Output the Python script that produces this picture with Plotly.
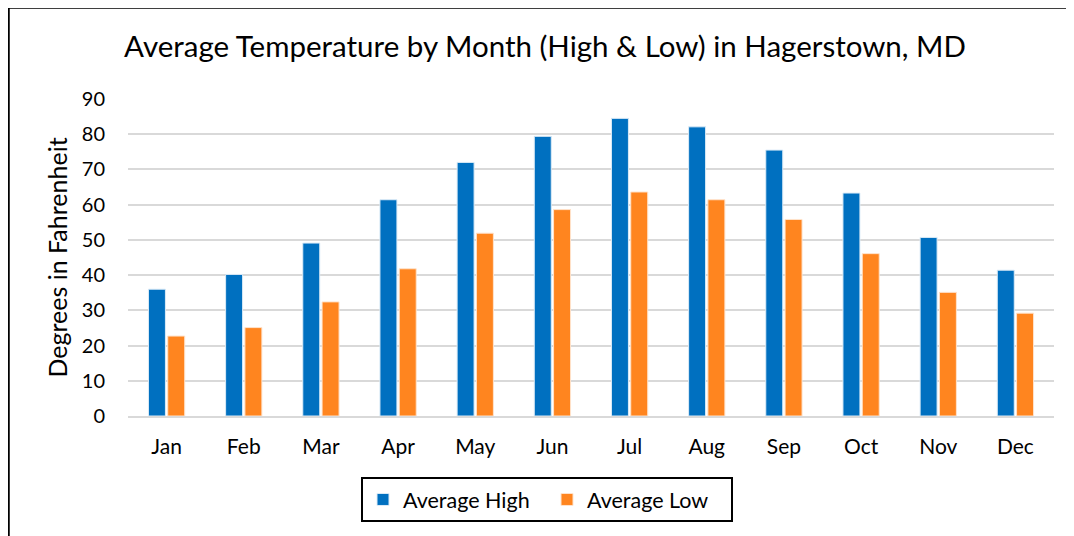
import plotly.graph_objects as go

months = ["Jan", "Feb", "Mar", "Apr", "May", "Jun", "Jul", "Aug", "Sep", "Oct", "Nov", "Dec"]
avg_high = [36.0, 40.2, 49.1, 61.4, 72.0, 79.4, 84.5, 82.1, 75.5, 63.3, 50.7, 41.4]
avg_low = [22.7, 25.1, 32.4, 41.8, 51.9, 58.6, 63.6, 61.4, 55.8, 46.1, 35.1, 29.2]
y_ticks = [0, 10, 20, 30, 40, 50, 60, 70, 80, 90]

FONT = "Lato"
BLUE = "#0070C0"
ORANGE = "#FF851F"

# page is offset by the browser's 8px body margin, so the figure is 8px smaller
W, H = 1066, 528
L, R, T, B = 120, 20, 91, 120
PW, PH = W - L - R, H - T - B


def px_x(fx):
    return (fx - L) / PW


def px_y(fy):
    return 1 - (fy - T) / PH


fig = go.Figure()
fig.add_trace(go.Bar(name="Average High", x=months, y=avg_high,
                     marker=dict(color=BLUE, line=dict(color="#DCEBF7", width=1))))
fig.add_trace(go.Bar(name="Average Low", x=months, y=avg_low,
                     marker=dict(color=ORANGE, line=dict(color="#FFE3CC", width=1))))

fig.update_layout(
    width=W, height=H,
    margin=dict(l=L, r=R, t=T, b=B),
    paper_bgcolor="white", plot_bgcolor="white",
    font=dict(family=FONT, color="#000000", size=20),
    barmode="group", bargap=0.5, bargroupgap=0.12,
    title=dict(text="Average Temperature by Month (High & Low) in Hagerstown, MD",
               x=537 / W, xanchor="center", y=1 - 39 / H, yanchor="middle",
               font=dict(family=FONT, size=29.5, color="#000000")),
    xaxis=dict(showgrid=False, showline=True, linecolor="#D9D9D9", linewidth=2,
               ticks="", ticklabelstandoff=11, tickfont=dict(size=21)),
    yaxis=dict(range=[0, 90], tickvals=y_ticks, showgrid=True, gridcolor="#D9D9D9",
               gridwidth=2, zeroline=False, showline=False, ticks="",
               ticklabelstandoff=22, tickfont=dict(size=20),
               title=dict(text="Degrees in Fahrenheit", font=dict(size=25), standoff=7)),
    legend=dict(orientation="h", x=px_x(539), xanchor="center",
                y=px_y(469), yanchor="top",
                bordercolor="#000000", borderwidth=2, bgcolor="white",
                font=dict(size=21.5), itemwidth=30, entrywidth=139, traceorder="normal"),
    showlegend=True,
)

fig.add_shape(type="rect", xref="paper", yref="paper",
              x0=px_x(0.5), x1=px_x(W + 40),
              y0=px_y(H + 30), y1=px_y(-0.5),
              line=dict(color="#000000", width=2.5), fillcolor="rgba(0,0,0,0)", layer="below")

fig.write_html("out.html")
